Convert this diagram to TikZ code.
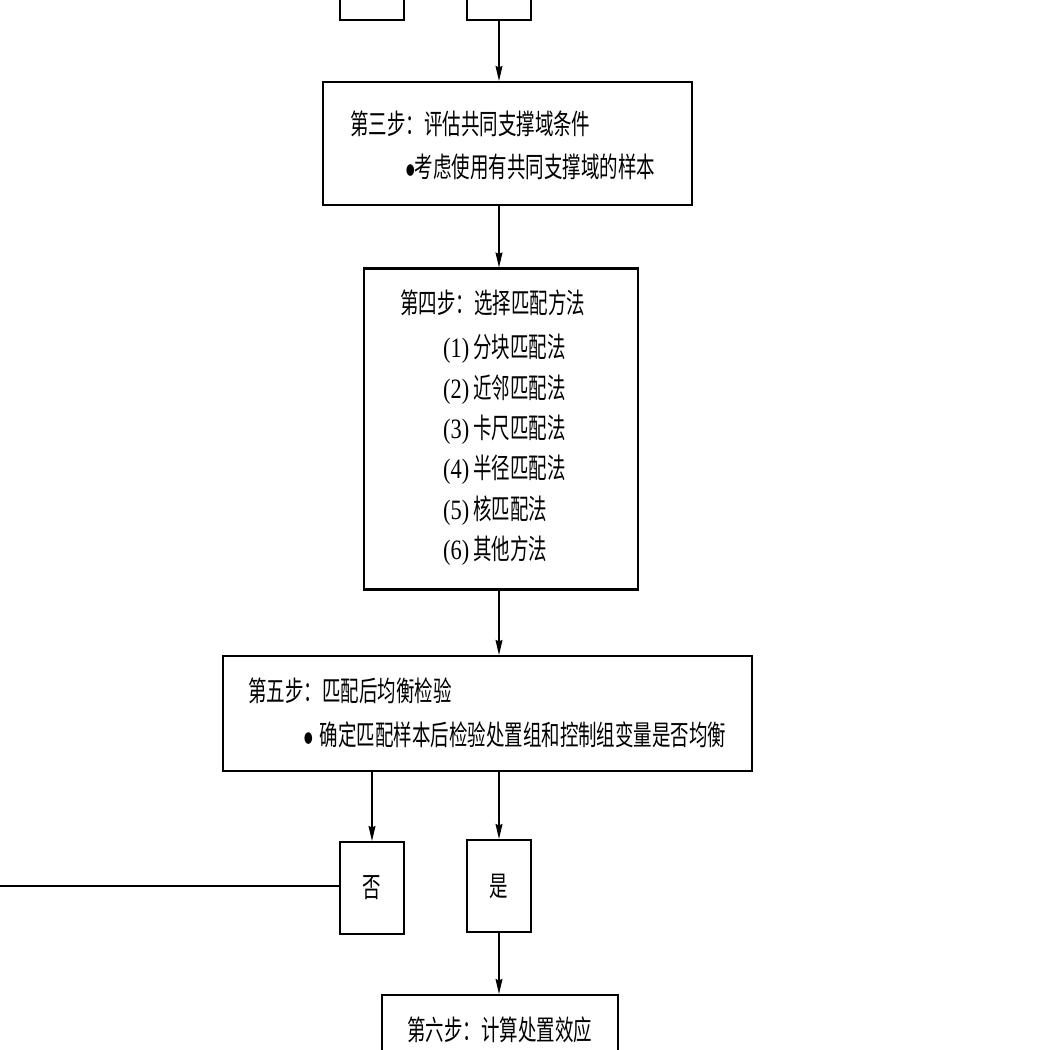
\documentclass[tikz,border=0pt]{standalone}
\usepackage{fontspec}
\newfontfamily\cjk[FakeStretch=0.66]{Noto Sans CJK SC}
\newfontfamily\ser[FakeStretch=0.8]{Liberation Serif}
\usetikzlibrary{arrows.meta}
\tikzset{
  box/.style={draw=black, line width=2.2pt, fill=white, inner sep=0pt},
  txt/.style={anchor=west, inner sep=0pt, font=\cjk\fontsize{28}{32}\selectfont},
  conn/.style={draw=black, line width=1.1pt},
  arr/.style={conn, -{Stealth[length=15pt,width=7pt,inset=1.5pt]}},
}
\newcommand{\mybul}{\raisebox{2pt}{\fontsize{13}{13}\selectfont●}}
\begin{document}
\begin{tikzpicture}[x=1pt,y=-1pt]
\useasboundingbox (0,0) rectangle (1049,1050);
\clip (0,0) rectangle (1049,1050);
% top partial boxes
\node[box, minimum width=64pt, minimum height=92pt] (tno) at (372,-26) {};
\node[box, minimum width=64pt, minimum height=92pt] (tyes) at (499,-26) {};
% step 3
\node[box, minimum width=369pt, minimum height=123pt] (s3) at (507.5,143.5) {};
\node[txt] (s3a) at (350,124) {第三步：评估共同支撑域条件};
\node[txt] (s3b) at (406,167) {\mybul 考虑使用有共同支撑域的样本};
% step 4
\node[box, minimum width=274pt, minimum height=321pt] (s4) at (501,429) {};
\node[txt] (s4a) at (400,303) {第四步：选择匹配方法};
\node[txt] (s4b) at (443,349) {{\ser(1)} 分块匹配法};
\node[txt] (s4c) at (443,390) {{\ser(2)} 近邻匹配法};
\node[txt] (s4d) at (443,430) {{\ser(3)} 卡尺匹配法};
\node[txt] (s4e) at (443,470) {{\ser(4)} 半径匹配法};
\node[txt] (s4f) at (443,511) {{\ser(5)} 核匹配法};
\node[txt] (s4g) at (443,551) {{\ser(6)} 其他方法};
% step 5
\node[box, minimum width=529pt, minimum height=115pt] (s5) at (487.5,713.5) {};
\node[txt] (s5a) at (248,691) {第五步：匹配后均衡检验};
\node[txt] (s5b) at (304,735) {\mybul\hspace{7pt}确定匹配样本后检验处置组和控制组变量是否均衡};
% no / yes
\node[box, minimum width=64pt, minimum height=92pt] (no) at (372,888) {};
\node[txt, anchor=center] (not) at (no.center) {否};
\node[box, minimum width=64pt, minimum height=92pt] (yes) at (499,886) {};
\node[txt, anchor=center] (yest) at (yes.center) {是};
% step 6
\node[box, minimum width=236pt, minimum height=120pt] (s6) at (500,1055) {};
\node[txt] (s6a) at (407,1030) {第六步：计算处置效应};
% connectors
\coordinate (lend) at (-10,886);
\draw[arr] (tyes.south) -- (tyes.south |- s3.north);
\draw[arr] (tyes.south |- s3.south) -- (tyes.south |- s4.north);
\draw[arr] (tyes.south |- s4.south) -- (tyes.south |- s5.north);
\draw[arr] (s5.south -| no.north) -- (no.north);
\draw[arr] (s5.south -| yes.north) -- (yes.north);
\draw[arr] (yes.south) -- (yes.south |- s6.north);
\draw[conn] (no.west |- lend) -- (lend);
\end{tikzpicture}
\end{document}
